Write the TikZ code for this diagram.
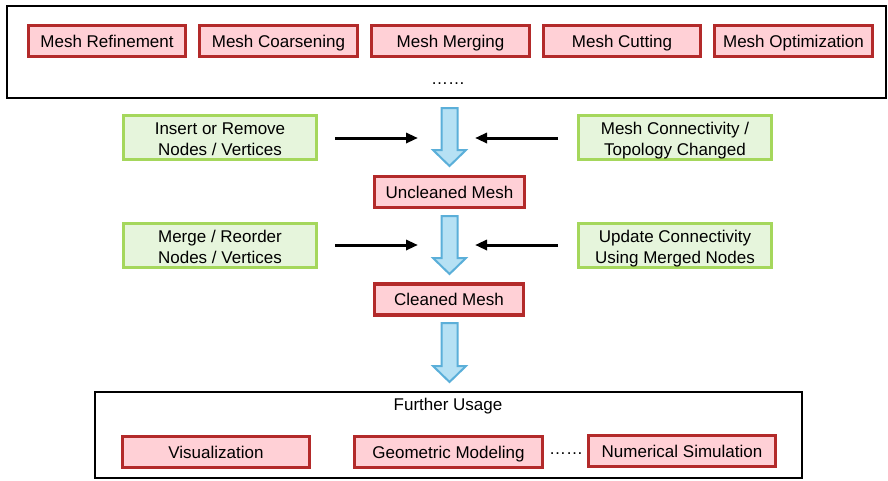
\documentclass[tikz,border=0pt]{standalone}
\usepackage{fontspec}
\setmainfont{Liberation Sans}
\usetikzlibrary{arrows.meta}
\definecolor{redb}{HTML}{B32A2A}
\definecolor{pinkf}{HTML}{FFD0D6}
\definecolor{greenb}{HTML}{A5D75C}
\definecolor{greenf}{HTML}{E6F5DC}
\definecolor{blueb}{HTML}{5BAFD9}
\definecolor{bluef}{HTML}{B6E1F4}
\newcommand\twolines[2]{\raisebox{-3.5pt}[\height][\depth]{\begin{tabular}{@{}c@{}}#1\\#2\end{tabular}}}
\tikzset{
  redbox/.style={draw=redb, fill=pinkf, line width=3.2pt, inner sep=0pt,
    minimum height=31pt, text height=12.2pt, text depth=0pt,
    font=\fontsize{17}{21}\selectfont},
  greenbox/.style={draw=greenb, fill=greenf, line width=3pt, inner sep=0pt,
    minimum height=44pt, minimum width=193pt,
    font=\fontsize{17}{21}\selectfont},
  framebox/.style={draw=black, line width=2.5pt},
  bluearrow/.style={draw=blueb, fill=bluef, line width=2pt, line join=miter},
  blackarrow/.style={draw=black, line width=3pt, -{Triangle[length=12pt,width=10pt]}},
  plaintext/.style={inner sep=0pt, font=\fontsize{17}{21}\selectfont},
}
\begin{document}
\begin{tikzpicture}[x=1pt, y=-1pt]
\useasboundingbox (0,0) rectangle (888,480);
% top frame
\draw[framebox] (7,6) rectangle (886,98);
\node[redbox, minimum width=157pt] (ref) at (107,41) {Mesh Refinement};
\node[redbox, minimum width=158pt] (coa) at (278.5,41) {Mesh Coarsening};
\node[redbox, minimum width=158pt] (mer) at (450.5,41) {Mesh Merging};
\node[redbox, minimum width=157pt] (cut) at (622,41) {Mesh Cutting};
\node[redbox, minimum width=158pt] (opt) at (793.5,41) {Mesh Optimization};
\node[plaintext, anchor=base] (dots1) at (448,84) {……};
% blue arrows
\draw[bluearrow] (441.5,108) -- (457.5,108) -- (457.5,150) -- (466,150) -- (449.5,166) -- (433,150) -- (441.5,150) -- cycle;
\draw[bluearrow] (441.5,216) -- (457.5,216) -- (457.5,258) -- (466,258) -- (449.5,274) -- (433,258) -- (441.5,258) -- cycle;
\draw[bluearrow] (441.5,323) -- (457.5,323) -- (457.5,366) -- (466,366) -- (449.5,382) -- (433,366) -- (441.5,366) -- cycle;
% green boxes
\node[greenbox] (ins) at (220,137.5) {\twolines{Insert or Remove}{Nodes / Vertices}};
\node[greenbox] (topo) at (675,137.5) {\twolines{Mesh Connectivity /}{Topology Changed}};
\node[greenbox] (mrg) at (220,245.5) {\twolines{Merge / Reorder}{Nodes / Vertices}};
\node[greenbox] (upd) at (675,245.5) {\twolines{Update Connectivity}{Using Merged Nodes}};
% mesh states
\node[redbox, minimum width=150pt] (unc) at (449.5,192) {Uncleaned Mesh};
\node[redbox, minimum width=149pt] (cln) at (449,299.5) {Cleaned Mesh};
% black arrows
\coordinate (a1s) at (335,138); \coordinate (a1e) at (418,138);
\coordinate (a2s) at (558,138); \coordinate (a2e) at (475,138);
\coordinate (a3s) at (335,245); \coordinate (a3e) at (418,245);
\coordinate (a4s) at (558,245); \coordinate (a4e) at (475,245);
\draw[blackarrow] (a1s) -- (a1e);
\draw[blackarrow] (a2s) -- (a2e);
\draw[blackarrow] (a3s) -- (a3e);
\draw[blackarrow] (a4s) -- (a4e);
% bottom frame
\draw[framebox, line width=2.2pt] (95,392) rectangle (802,478);
\node[plaintext, anchor=base] (fu) at (448,410) {Further Usage};
\node[redbox, minimum width=187pt] (vis) at (216,452) {Visualization};
\node[redbox, minimum width=188pt] (geo) at (448.5,452) {Geometric Modeling};
\node[redbox, minimum width=187pt] (num) at (682,451) {Numerical Simulation};
\node[plaintext, anchor=base] (dots2) at (566,454) {……};
\end{tikzpicture}
\end{document}
